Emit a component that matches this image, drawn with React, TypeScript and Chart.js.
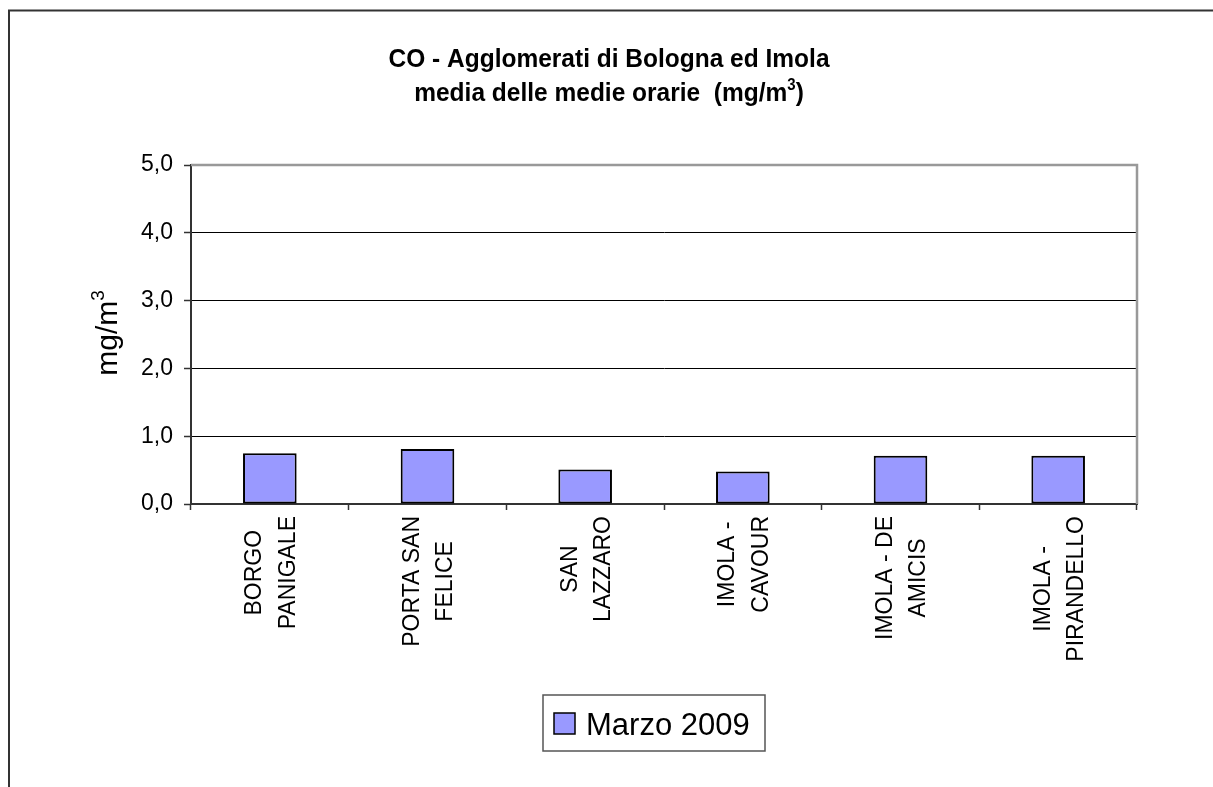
import React, { useEffect, useRef } from "react";
import { Chart, registerables } from "chart.js";

Chart.register(...registerables);

const titleLine1 = "CO - Agglomerati di Bologna ed Imola";
const titleLine2 = ["media delle medie orarie  (mg/m", "3", ")"];
const yAxisTitle = ["mg/m", "3", ""];
const categories: string[][] = [
  ["BORGO", "PANIGALE"],
  ["PORTA SAN", "FELICE"],
  ["SAN", "LAZZARO"],
  ["IMOLA -", "CAVOUR"],
  ["IMOLA - DE", "AMICIS"],
  ["IMOLA -", "PIRANDELLO"],
];
const seriesLabel = "Marzo 2009";
const seriesValues = [0.75, 0.81, 0.51, 0.48, 0.71, 0.71];
const yTicks = [0, 1, 2, 3, 4, 5];

const FONT = "'Liberation Sans', Arial, sans-serif";
const BAR_COLOR = "#9999FF";

// draws text with a superscript middle part, centered at (0,0) baseline
function drawSupText(
  ctx: CanvasRenderingContext2D,
  parts: string[],
  size: number,
  bold: boolean
) {
  const w = bold ? "bold " : "";
  const mainFont = `${w}${size}px ${FONT}`;
  const supFont = `${w}${Math.round(size * 0.62)}px ${FONT}`;
  ctx.font = mainFont;
  const w0 = ctx.measureText(parts[0]).width;
  const w2 = ctx.measureText(parts[2]).width;
  ctx.font = supFont;
  const w1 = ctx.measureText(parts[1]).width;
  const total = w0 + w1 + w2;
  let x = -total / 2;
  ctx.textAlign = "left";
  ctx.textBaseline = "alphabetic";
  ctx.font = mainFont;
  ctx.fillText(parts[0], x, 0);
  x += w0;
  ctx.font = supFont;
  ctx.fillText(parts[1], x, -size * 0.42);
  x += w1;
  ctx.font = mainFont;
  ctx.fillText(parts[2], x, 0);
}

const decorPlugin = {
  id: "decor",
  afterDraw(chart: any) {
    const ctx = chart.ctx as CanvasRenderingContext2D;
    const area = chart.chartArea;
    const xScale = chart.scales.x;
    ctx.save();

    // outer frame (top & left)
    ctx.strokeStyle = "#333";
    ctx.lineWidth = 2;
    ctx.beginPath();
    ctx.moveTo(9, 787);
    ctx.lineTo(9, 10.5);
    ctx.lineTo(1213, 10.5);
    ctx.stroke();

    // plot area top & right border
    ctx.strokeStyle = "#999";
    ctx.lineWidth = 2.5;
    ctx.beginPath();
    ctx.moveTo(area.left, area.top);
    ctx.lineTo(area.right, area.top);
    ctx.lineTo(area.right, area.bottom);
    ctx.stroke();

    // title
    ctx.fillStyle = "#000";
    ctx.save();
    ctx.translate(609, 67);
    ctx.scale(1, 1.08);
    ctx.font = `bold 24.5px ${FONT}`;
    ctx.textAlign = "center";
    ctx.textBaseline = "alphabetic";
    ctx.fillText(titleLine1, 0, 0);
    ctx.restore();
    ctx.save();
    ctx.translate(609, 101);
    ctx.scale(1, 1.08);
    drawSupText(ctx, titleLine2, 24.5, true);
    ctx.restore();

    // y axis title
    ctx.save();
    ctx.translate(117, 333);
    ctx.rotate(-Math.PI / 2);
    drawSupText(ctx, yAxisTitle, 30, false);
    ctx.restore();

    // x category labels (rotated, centered lines)
    const fs = 23;
    ctx.font = `${fs}px ${FONT}`;
    const capH = fs * 0.716;
    const lineGap = 33.5;
    const blockTop = 516;
    categories.forEach((lines, i) => {
      const cx = xScale.getPixelForValue(i);
      const maxW = Math.max(...lines.map((l) => ctx.measureText(l).width));
      const n = lines.length;
      lines.forEach((line, j) => {
        const center = cx + (j - (n - 1) / 2) * lineGap;
        const base = center + capH / 2;
        ctx.save();
        ctx.translate(base, blockTop + maxW / 2);
        ctx.rotate(-Math.PI / 2);
        ctx.textAlign = "center";
        ctx.textBaseline = "alphabetic";
        ctx.fillText(line, 0, 0);
        ctx.restore();
      });
    });

    // legend
    const ds = chart.data.datasets[0];
    ctx.strokeStyle = "#555";
    ctx.lineWidth = 1.5;
    ctx.strokeRect(543, 695, 222, 56);
    ctx.fillStyle = ds.backgroundColor;
    ctx.fillRect(554, 713, 21, 21);
    ctx.strokeStyle = "#000";
    ctx.lineWidth = 1.5;
    ctx.strokeRect(554, 713, 21, 21);
    ctx.fillStyle = "#000";
    ctx.font = `31px ${FONT}`;
    ctx.textAlign = "left";
    ctx.fillText(ds.label, 586, 735);

    ctx.restore();
  },
};

export default function App() {
  const ref = useRef<HTMLCanvasElement>(null);
  useEffect(() => {
    if (!ref.current) return;
    const chart = new Chart(ref.current, {
      type: "bar",
      data: {
        labels: categories.map((c) => c.join(" ")),
        datasets: [
          {
            label: seriesLabel,
            data: seriesValues,
            backgroundColor: BAR_COLOR,
            borderColor: "#000",
            borderWidth: 2,
            borderSkipped: false,
            barPercentage: 0.34,
            categoryPercentage: 1,
          },
        ],
      },
      options: {
        responsive: false,
        animation: false,
        layout: { padding: { top: 165, right: 76, left: 0, bottom: 0 } },
        plugins: {
          legend: { display: false },
          title: { display: false },
          tooltip: { enabled: false },
        },
        scales: {
          x: {
            offset: true,
            grid: {
              offset: true,
              drawOnChartArea: false,
              drawTicks: true,
              tickLength: 6,
              tickColor: "#333",
              tickWidth: 1.5,
            },
            border: { color: "#333", width: 2 },
            ticks: { display: false },
            afterFit(scale: any) {
              scale.height = 787 - 504;
            },
          },
          y: {
            min: 0,
            max: 5,
            afterBuildTicks(scale: any) {
              scale.ticks = yTicks.map((v) => ({ value: v }));
            },
            grid: {
              color: "#000",
              lineWidth: 1,
              drawTicks: true,
              tickLength: 7,
              tickColor: "#333",
              tickWidth: 1.5,
            },
            border: { color: "#333", width: 2 },
            ticks: {
              color: "#000",
              padding: 11,
              font: { family: FONT, size: 23 },
              callback: (v: any) => Number(v).toFixed(1).replace(".", ","),
            },
            afterFit(scale: any) {
              scale.width = 191;
            },
          },
        },
      },
      plugins: [decorPlugin],
    });
    return () => chart.destroy();
  }, []);
  return (
    <div style={{ position: "absolute", left: 0, top: 0, width: 1213, height: 787, background: "#fff" }}>
      <canvas ref={ref} width={1213} height={787} style={{ display: "block" }} />
    </div>
  );
}
